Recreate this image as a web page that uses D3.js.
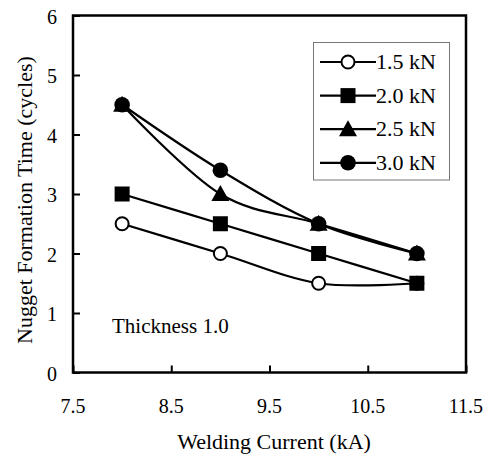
<!DOCTYPE html>
<html>
<head>
<meta charset="utf-8">
<script src="https://cdn.jsdelivr.net/npm/d3@7/dist/d3.min.js"></script>
<style>
  html, body { margin: 0; padding: 0; background: #fff; }
  svg { display: block; }
</style>
</head>
<body>
<svg id="chart" width="494" height="457"></svg>
<script>
// Welding current (kA) at which each force was tested
const current = [8, 9, 10, 11];
// Nugget formation time (cycles) per electrode force
const force15 = [2.5, 2.0, 1.5, 1.5];
const force20 = [3.0, 2.5, 2.0, 1.5];
const force25 = [4.5, 3.0, 2.5, 2.0];
const force30 = [4.5, 3.4, 2.5, 2.0];
const seriesNames = ["1.5 kN", "2.0 kN", "2.5 kN", "3.0 kN"];
const seriesMarkers = ["circleOpen", "square", "triangle", "circle"];
const xTicks = [7.5, 8.5, 9.5, 10.5, 11.5];
const yTicks = [0, 1, 2, 3, 4, 5, 6];

const series = [force15, force20, force25, force30].map((vals, i) => ({
  name: seriesNames[i], marker: seriesMarkers[i],
  points: current.map((c, j) => [c, vals[j]])
}));

const FONT = "Liberation Serif, DejaVu Serif, Times New Roman, serif";
const svg = d3.select("#chart").attr("font-family", FONT);
const plot = { left: 73, right: 466, top: 15.5, bottom: 372.5 };

const x = d3.scaleLinear().domain([7.5, 11.5]).range([plot.left, plot.right]);
const y = d3.scaleLinear().domain([0, 6]).range([plot.bottom, plot.top]);

// frame
svg.append("rect")
  .attr("x", plot.left).attr("y", plot.top)
  .attr("width", plot.right - plot.left).attr("height", plot.bottom - plot.top)
  .attr("fill", "none").attr("stroke", "#000").attr("stroke-width", 2.5);

// axes with inward ticks
const yAxis = svg.append("g").attr("transform", `translate(${plot.left},0)`)
  .call(d3.axisRight(y).tickValues(yTicks).tickSize(7).tickFormat(""));
yAxis.select(".domain").remove();
yAxis.selectAll("line").attr("stroke-width", 2);

const xAxis = svg.append("g").attr("transform", `translate(0,${plot.bottom})`)
  .call(d3.axisTop(x).tickValues(xTicks).tickSize(7).tickFormat(""));
xAxis.select(".domain").remove();
xAxis.selectAll("line").attr("stroke-width", 2);

// tick labels
svg.append("g").selectAll("text").data(yTicks).join("text")
  .attr("x", 57).attr("y", d => y(d) + 8)
  .attr("text-anchor", "end").attr("font-size", 20)
  .text(d => d);

svg.append("g").selectAll("text").data(xTicks).join("text")
  .attr("x", d => x(d)).attr("y", 413)
  .attr("text-anchor", "middle").attr("font-size", 20)
  .text(d => d.toFixed(1));

// axis titles
svg.append("text")
  .attr("x", 274).attr("y", 449)
  .attr("text-anchor", "middle").attr("font-size", 22)
  .text("Welding Current (kA)");

svg.append("text")
  .attr("transform", "translate(32,344) rotate(-90)")
  .attr("text-anchor", "start").attr("font-size", 22)
  .text("Nugget Formation Time (cycles)");

// annotation
svg.append("text")
  .attr("x", 112).attr("y", 333).attr("font-size", 21)
  .text("Thickness 1.0");

// series lines
const line = d3.line()
  .x(d => x(d[0])).y(d => y(d[1]))
  .curve(d3.curveCardinal.tension(0));

svg.append("g").selectAll("path").data(series).join("path")
  .attr("d", d => line(d.points))
  .attr("fill", "none").attr("stroke", "#000").attr("stroke-width", 2.2);

function drawMarker(g, type, cx, cy) {
  if (type === "circleOpen") {
    g.append("circle").attr("cx", cx).attr("cy", cy).attr("r", 6.5)
      .attr("fill", "#fff").attr("stroke", "#000").attr("stroke-width", 2);
  } else if (type === "circle") {
    g.append("circle").attr("cx", cx).attr("cy", cy).attr("r", 7.8).attr("fill", "#000");
  } else if (type === "square") {
    g.append("rect").attr("x", cx - 7.5).attr("y", cy - 7.5)
      .attr("width", 15).attr("height", 15).attr("fill", "#000");
  } else if (type === "triangle") {
    g.append("path")
      .attr("d", `M${cx},${cy - 9}L${cx + 9},${cy + 7}L${cx - 9},${cy + 7}Z`)
      .attr("fill", "#000");
  }
}

const markers = svg.append("g");
series.forEach(s => {
  s.points.forEach(p => drawMarker(markers, s.marker, x(p[0]), y(p[1])));
});

// legend
const legend = svg.append("g");
legend.append("rect")
  .attr("x", 313.5).attr("y", 42.5).attr("width", 136).attr("height", 137.5)
  .attr("fill", "#fff").attr("stroke", "#777").attr("stroke-width", 1);

series.forEach((s, i) => {
  const ly = 62 + i * 33.6;
  legend.append("line")
    .attr("x1", 320).attr("x2", 376).attr("y1", ly).attr("y2", ly)
    .attr("stroke", "#000").attr("stroke-width", 2.2);
  drawMarker(legend, s.marker, 348, ly);
  legend.append("text")
    .attr("x", 376).attr("y", ly + 7).attr("font-size", 22)
    .text(s.name);
});
</script>
</body>
</html>
